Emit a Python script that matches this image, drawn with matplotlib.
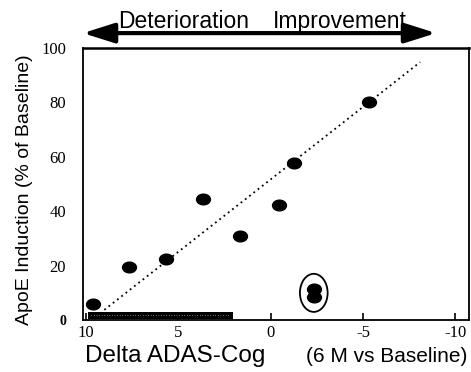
import numpy as np
import matplotlib
matplotlib.use('Agg')
import matplotlib.pyplot as plt
from matplotlib.path import Path
from matplotlib.patches import Ellipse

# data
delta_adas = [9.64, 7.66, 5.68, 3.67, 1.63, -0.46, -1.28, -5.32]
apoe_induction = [5.9, 19.4, 22.5, 44.6, 30.7, 42.4, 57.6, 80.0]

# the two circled (non-responder) points
circled_x = [-2.34, -2.34]
circled_y = [11.4, 8.5]

# dotted trend line end points
trend_x = [9.0, -8.1]
trend_y = [3.7, 94.8]

x_ticks = [10, 5, 0, -5, -10]
y_ticks = [0, 20, 40, 60, 80, 100]
y_ticklabels = ['0', '20', '40', '60', '80', '100']

sans = 'Liberation Sans'
serif = 'Liberation Serif'

fig = plt.figure(figsize=(4.71, 3.72), dpi=100)
ax = fig.add_axes([0.176, 0.140, 0.820, 0.731])

# slightly wide ellipse marker, like the scanned dots
oval = Path.unit_circle().transformed(matplotlib.transforms.Affine2D().scale(1.3, 1.0))

ax.plot(trend_x, trend_y, color='black', linestyle=(0, (1, 2)), linewidth=1.3)
ax.plot(delta_adas, apoe_induction, linestyle='none', marker=oval,
        markersize=10, color='black')
ax.plot(circled_x, circled_y, linestyle='none', marker=oval,
        markersize=10, color='black')
ax.add_patch(Ellipse((np.mean(circled_x), np.mean(circled_y)), 1.5, 14,
                     fill=False, edgecolor='black', linewidth=1.3))

# black scan strip along the bottom of the axis
ax.fill_between([9.9, 2.05], 0.5, 2.9, color='black', linewidth=0)
ax.plot([9.7, 2.2], [1.7, 1.7], color='white', linestyle=(0, (0.6, 2.5)), linewidth=0.6)

ax.set_xlim(10.16, -10.75)
ax.set_ylim(0, 100)
ax.set_xticks(x_ticks)
ax.set_xticklabels([str(v) for v in x_ticks], fontfamily=serif, fontsize=12)
ax.set_yticks(y_ticks)
ax.set_yticklabels(y_ticklabels, fontfamily=serif, fontsize=12)
ax.get_yticklabels()[0].set_fontweight('bold')
ax.get_yticklabels()[0].set_fontsize(10)
ax.tick_params(axis='x', direction='in', length=5, width=1.2, pad=4)
ax.tick_params(axis='y', length=0, pad=12)

for side in ['left', 'right', 'bottom']:
    ax.spines[side].set_linewidth(1.3)
ax.spines['top'].set_linewidth(1.8)

ax.set_ylabel('ApoE Induction (% of Baseline)', fontfamily=sans, fontsize=14)
ax.yaxis.set_label_coords(-0.13, 0.48)

# x label in two sizes
fig.text(0.180, 0.027, 'Delta ADAS-Cog', fontfamily=sans, fontsize=17.5, va='baseline', ha='left')
fig.text(0.992, 0.027, '(6 M vs Baseline)', fontfamily=sans, fontsize=15, va='baseline', ha='right')

# direction arrow on top
ax.annotate('', xy=(0.176, 0.911), xytext=(0.926, 0.911), xycoords='figure fraction',
            arrowprops=dict(arrowstyle='<|-|>,head_length=1.9,head_width=0.6',
                            color='black', linewidth=3, shrinkA=0, shrinkB=0))
fig.text(0.389, 0.941, 'Deterioration', fontfamily=sans, fontsize=16.5, ha='center', va='center')
fig.text(0.722, 0.941, 'Improvement', fontfamily=sans, fontsize=16.5, ha='center', va='center')

plt.savefig('out.png', dpi=100)
